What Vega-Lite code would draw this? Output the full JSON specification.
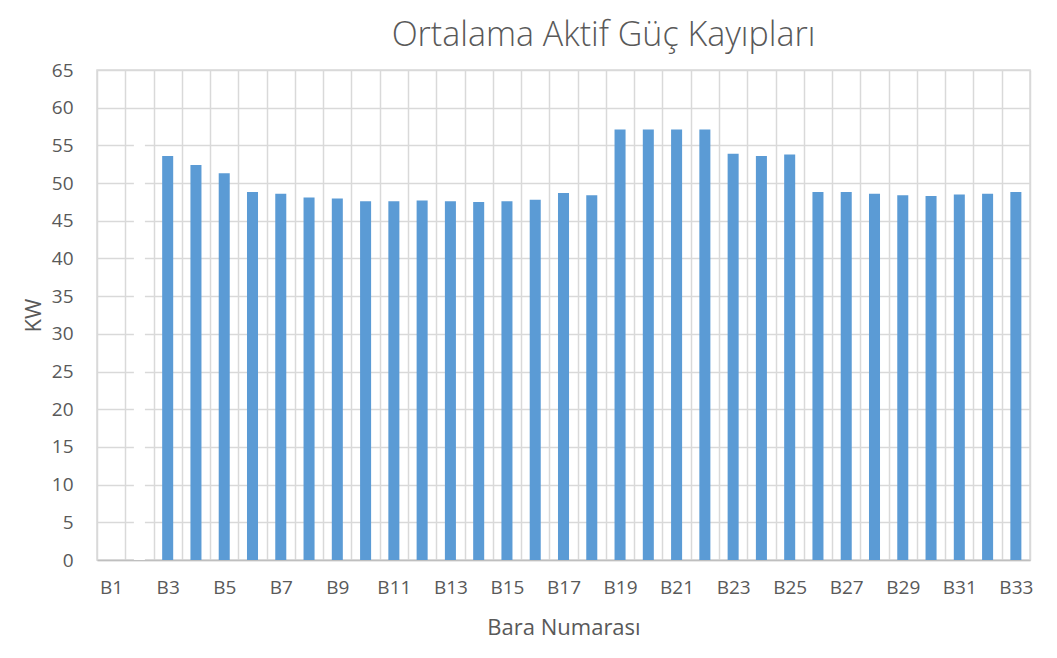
{
  "$schema": "https://vega.github.io/schema/vega-lite/v6.json",
  "width": 933,
  "height": 490,
  "autosize": {"type": "none"},
  "padding": {"left": 97, "top": 70, "right": 27, "bottom": 98},
  "background": "white",
  "title": {
    "text": "Ortalama Aktif Güç Kayıpları",
    "anchor": "middle",
    "frame": "group",
    "dx": 40,
    "offset": 8,
    "font": "Open Sans",
    "fontSize": 34,
    "fontWeight": 300,
    "color": "#595959"
  },
  "data": {
    "values": [
      {"bar": "B1", "kw": null},
      {"bar": "B2", "kw": 56},
      {"bar": "B3", "kw": 53.6},
      {"bar": "B4", "kw": 52.4},
      {"bar": "B5", "kw": 51.3},
      {"bar": "B6", "kw": 48.8},
      {"bar": "B7", "kw": 48.6},
      {"bar": "B8", "kw": 48.1},
      {"bar": "B9", "kw": 47.95},
      {"bar": "B10", "kw": 47.6},
      {"bar": "B11", "kw": 47.6},
      {"bar": "B12", "kw": 47.7},
      {"bar": "B13", "kw": 47.6},
      {"bar": "B14", "kw": 47.5},
      {"bar": "B15", "kw": 47.6},
      {"bar": "B16", "kw": 47.8},
      {"bar": "B17", "kw": 48.7},
      {"bar": "B18", "kw": 48.4},
      {"bar": "B19", "kw": 57.1},
      {"bar": "B20", "kw": 57.1},
      {"bar": "B21", "kw": 57.1},
      {"bar": "B22", "kw": 57.1},
      {"bar": "B23", "kw": 53.9},
      {"bar": "B24", "kw": 53.6},
      {"bar": "B25", "kw": 53.8},
      {"bar": "B26", "kw": 48.8},
      {"bar": "B27", "kw": 48.8},
      {"bar": "B28", "kw": 48.6},
      {"bar": "B29", "kw": 48.4},
      {"bar": "B30", "kw": 48.3},
      {"bar": "B31", "kw": 48.5},
      {"bar": "B32", "kw": 48.6},
      {"bar": "B33", "kw": 48.8}
    ]
  },
  "mark": {"type": "bar", "width": {"band": 0.39}},
  "encoding": {
    "x": {
      "field": "bar",
      "type": "nominal",
      "sort": null,
      "scale": {
        "domain": ["B1","B2","B3","B4","B5","B6","B7","B8","B9","B10","B11","B12","B13","B14","B15","B16","B17","B18","B19","B20","B21","B22","B23","B24","B25","B26","B27","B28","B29","B30","B31","B32","B33"],
        "paddingInner": 0,
        "paddingOuter": 0
      },
      "axis": {
        "title": "Bara Numarası",
        "titleFont": "Open Sans",
        "titleFontSize": 22,
        "titleFontWeight": "normal",
        "titleColor": "#595959",
        "titlePadding": 20,
        "labelAngle": 0,
        "labelFont": "Open Sans",
        "labelFontSize": 19,
        "labelColor": "#595959",
        "labelPadding": 18,
        "labelExpr": "parseInt(substring(datum.label, 1)) % 2 == 1 ? datum.label : ''",
        "labelOverlap": false,
        "tickBand": "extent",
        "ticks": false,
        "tickSize": 0,
        "grid": true,
        "gridColor": "#D9D9D9",
        "gridWidth": 1.5,
        "domainColor": "#BFBFBF",
        "domainWidth": 1.5
      }
    },
    "y": {
      "field": "kw",
      "type": "quantitative",
      "scale": {"domain": [0, 65], "nice": false},
      "axis": {
        "title": "KW",
        "titleFont": "Open Sans",
        "titleFontSize": 22,
        "titleFontWeight": "normal",
        "titleColor": "#595959",
        "titlePadding": 6,
        "values": [0, 5, 10, 15, 20, 25, 30, 35, 40, 45, 50, 55, 60, 65],
        "labelFont": "Open Sans",
        "labelFontSize": 19,
        "labelColor": "#595959",
        "labelPadding": 24,
        "ticks": false,
        "tickSize": 0,
        "domain": false,
        "grid": true,
        "gridColor": "#D9D9D9",
        "gridWidth": 1.5
      }
    },
    "color": {
      "condition": {"test": "datum.bar === 'B2'", "value": "#FFFFFF"},
      "value": "#5B9BD5"
    }
  },
  "config": {
    "view": {"stroke": "#D9D9D9", "strokeWidth": 1.5}
  }
}
